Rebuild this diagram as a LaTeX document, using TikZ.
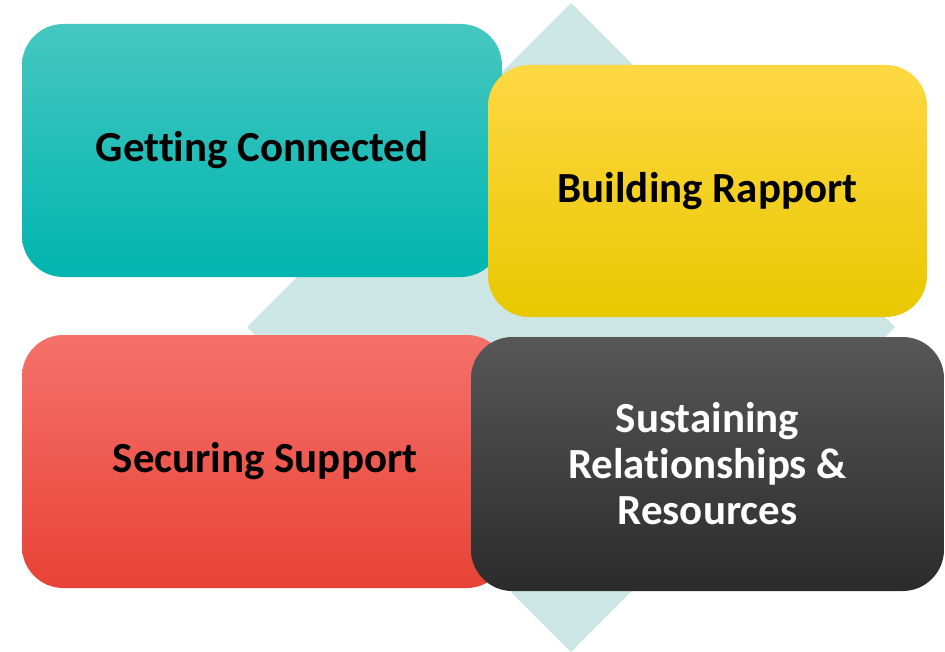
\documentclass[tikz,border=0pt]{standalone}
\usepackage{fontspec}
\setmainfont{Carlito}[Ligatures=NoCommon]

\definecolor{diamondbg}{HTML}{CCE6E6}
\definecolor{tealtop}{HTML}{46C7C0}
\definecolor{tealmid}{HTML}{08BCB6}
\definecolor{tealbot}{HTML}{00B5B0}
\definecolor{yeltop}{HTML}{FED843}
\definecolor{yelmid}{HTML}{FFDA00}
\definecolor{yelbot}{HTML}{E8C800}
\definecolor{redtop}{HTML}{F5716A}
\definecolor{redmid}{HTML}{F4554B}
\definecolor{redbot}{HTML}{E84236}
\definecolor{darktop}{HTML}{575757}
\definecolor{darkmid}{HTML}{383838}
\definecolor{darkbot}{HTML}{2B2B2B}

\begin{document}
\begin{tikzpicture}[x=0.75pt,y=-0.75pt]
            \tikzstyle{every node}+=[inner sep=0pt]
            \tikzstyle{card}=[rectangle, rounded corners=31pt, align=center,
                font=\fontsize{32.2}{34.5}\selectfont\bfseries]
            \useasboundingbox (0,0) rectangle (945,652);
            \fill [diamondbg] (571,3) -- (895,327) -- (571,652) -- (247,327) -- cycle;
            \node [card, minimum width=360pt, minimum height=189.75pt,
                top color=tealtop, middle color=tealmid, bottom color=tealbot] (connected) at (262,150.5) {Getting Connected};
            \node [card, minimum width=329.25pt, minimum height=189pt,
                top color=yeltop, middle color=yelmid, bottom color=yelbot] (rapport) at (707.5,191) {Building Rapport};
            \node [card, minimum width=364.5pt, minimum height=189.75pt,
                top color=redtop, middle color=redmid, bottom color=redbot] (support) at (265,461.5) {Securing Support};
            \node [card, minimum width=354.75pt, minimum height=190.5pt, text=white,
                top color=darktop, middle color=darkmid, bottom color=darkbot] (sustaining) at (707.5,464) {Sustaining\\Relationships \&\\Resources};
            \end{tikzpicture}
\end{document}
